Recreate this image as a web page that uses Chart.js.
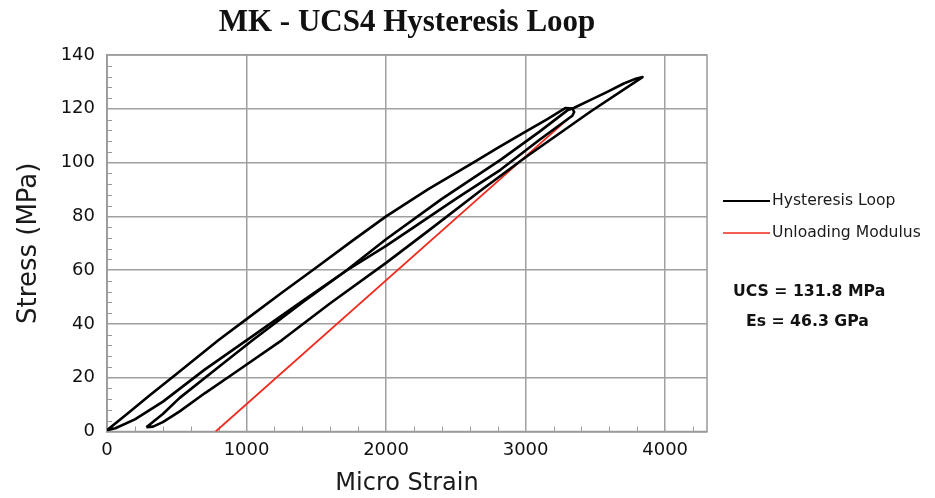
<!DOCTYPE html>
<html>
<head>
<meta charset="utf-8">
<script src="https://cdn.jsdelivr.net/npm/chart.js@4.4.1/dist/chart.umd.min.js"></script>
<style>
  html, body { margin: 0; padding: 0; background: #fff; }
</style>
</head>
<body>
<canvas id="chart" width="935" height="498"></canvas>
<script>
const titleText = 'MK - UCS4 Hysteresis Loop';
const seriesLabels = ['Hysteresis Loop', 'Unloading Modulus'];
const notes = ['UCS = 131.8 MPa', 'Es = 46.3 GPa'];
const xTickValues = [0, 1000, 2000, 3000, 4000];
const yTickValues = [0, 20, 40, 60, 80, 100, 120, 140];

// first cycle: load to ~120 MPa, unload back to the origin
const cycle1Strain = [0, 150, 300, 500, 800, 1000, 1250, 1500, 1750, 2000, 2300, 2625, 2800, 3000, 3150, 3287,
  3335, 3348, 3335, 3310, 3100, 2820, 2500, 2200, 2000, 1706, 1400, 1002, 700, 401, 200, 60, 0];
const cycle1Stress = [0.5, 6.8, 13.2, 21.5, 34, 41.8, 51.5, 61, 70.6, 80, 90, 100, 105.5, 111.5, 116, 120.3,
  120.1, 118.8, 117.4, 116.5, 108.5, 97.3, 86.5, 76, 69, 59.5, 48.5, 34, 23, 11.1, 4.5, 1.2, 0.5];

// second cycle: reload from the residual strain to failure, then unload
const cycle2Strain = [282, 400, 521, 800, 1045, 1400, 1706, 2000, 2400, 2820, 3100, 3299,
  3345, 3466, 3586, 3700, 3790, 3838,
  3800, 3466, 3000, 2676, 2300, 2000, 1600, 1254, 900, 700, 521, 400, 330, 282];
const cycle2Stress = [1.6, 6.5, 12.5, 24, 34, 48, 59.5, 71.5, 86.5, 101, 111.5, 119.4,
  120.3, 123.3, 126.3, 129.3, 131.2, 131.8,
  130.5, 119, 102, 89.5, 74.5, 62.7, 47.7, 34, 21.3, 14.2, 7.5, 3.5, 1.8, 1.6];

// unloading modulus tangent
const modulusStrain = [779, 3310];
const modulusStress = [0, 116.5];

const toPoints = (xs, ys) => xs.map((v, i) => ({x: v, y: ys[i]}));

const decor = {
  id: 'decor',
  beforeDatasetsDraw(chart) {
    const {ctx, chartArea: a, scales: {x, y}} = chart;
    ctx.save();
    ctx.strokeStyle = '#9a9a9a';
    ctx.lineWidth = 1;
    ctx.beginPath();
    for (let v = 200; v < 4300; v += 200) {
      if (v % 1000 === 0) continue;
      const px = Math.round(x.getPixelForValue(v)) + 0.5;
      ctx.moveTo(px, a.bottom);
      ctx.lineTo(px, a.bottom - 5);
    }
    for (let v = 4; v < 140; v += 4) {
      if (v % 20 === 0) continue;
      const py = Math.round(y.getPixelForValue(v)) + 0.5;
      ctx.moveTo(a.left, py);
      ctx.lineTo(a.left + 5, py);
    }
    ctx.stroke();
    ctx.lineWidth = 1.5;
    ctx.strokeRect(a.left, a.top, a.right - a.left, a.bottom - a.top);
    ctx.restore();
  },
  afterDraw(chart) {
    const {ctx, chartArea: a} = chart;
    ctx.save();
    // title
    ctx.fillStyle = '#111';
    ctx.font = 'bold 31px "Liberation Serif"';
    ctx.textAlign = 'center';
    ctx.textBaseline = 'middle';
    ctx.fillText(titleText, (a.left + a.right) / 2, 23);
    // legend
    const colors = ['#000', '#f02a1e'];
    ctx.textAlign = 'left';
    ctx.font = '15.6px "DejaVu Sans"';
    seriesLabels.forEach((lab, i) => {
      const yy = 201 + i * 32;
      ctx.strokeStyle = colors[i];
      ctx.lineWidth = i === 0 ? 2 : 1.5;
      ctx.beginPath();
      ctx.moveTo(723, yy);
      ctx.lineTo(770, yy);
      ctx.stroke();
      ctx.fillStyle = '#1a1a1a';
      ctx.fillText(lab, 772, yy);
    });
    // results
    ctx.font = 'bold 15.7px "DejaVu Sans"';
    ctx.fillStyle = '#111';
    ctx.fillText(notes[0], 733, 292);
    ctx.fillText(notes[1], 746, 322);
    ctx.restore();
  }
};

new Chart(document.getElementById('chart'), {
  type: 'scatter',
  data: {
    datasets: [
      {
        label: seriesLabels[0],
        data: toPoints(cycle1Strain, cycle1Stress),
        showLine: true,
        borderColor: '#000',
        borderWidth: 2.6,
        borderJoinStyle: 'round',
        pointRadius: 0,
        tension: 0
      },
      {
        label: seriesLabels[0],
        data: toPoints(cycle2Strain, cycle2Stress),
        showLine: true,
        borderColor: '#000',
        borderWidth: 2.6,
        borderJoinStyle: 'round',
        pointRadius: 0,
        tension: 0
      },
      {
        label: seriesLabels[1],
        data: toPoints(modulusStrain, modulusStress),
        showLine: true,
        borderColor: '#f02a1e',
        borderWidth: 1.8,
        pointRadius: 0
      }
    ]
  },
  options: {
    responsive: false,
    animation: false,
    layout: {
      padding: {top: 55, right: 228, bottom: 0, left: 0}
    },
    scales: {
      x: {
        type: 'linear',
        min: 0,
        max: 4300,
        afterFit: function (scale) { scale.height = 66.5; },
        afterBuildTicks: function (scale) {
          scale.ticks = xTickValues.map(v => ({value: v}));
        },
        ticks: {
          padding: 8,
          color: '#111',
          font: {family: 'DejaVu Sans', size: 18},
          callback: function (value) { return String(value); }
        },
        grid: {
          color: '#a0a0a0',
          lineWidth: 1.5,
          drawTicks: false
        },
        border: {color: '#9a9a9a', width: 1.5},
        title: {
          display: true,
          text: 'Micro Strain',
          color: '#1a1a1a',
          font: {family: 'DejaVu Sans', size: 24},
          padding: {top: 0, bottom: 0}
        }
      },
      y: {
        min: 0,
        max: 140,
        afterFit: function (scale) { scale.width = 107; },
        afterBuildTicks: function (scale) {
          scale.ticks = yTickValues.map(v => ({value: v}));
        },
        ticks: {
          padding: 12,
          color: '#111',
          font: {family: 'DejaVu Sans', size: 18},
          callback: function (value) { return String(value); }
        },
        grid: {
          color: '#a0a0a0',
          lineWidth: 1.5,
          drawTicks: false
        },
        border: {color: '#9a9a9a', width: 1.5},
        title: {
          display: true,
          text: 'Stress (MPa)',
          color: '#1a1a1a',
          font: {family: 'DejaVu Sans', size: 26},
          padding: {top: 14, bottom: 0}
        }
      }
    },
    plugins: {
      legend: {display: false},
      tooltip: {enabled: false}
    }
  },
  plugins: [decor]
});
</script>
</body>
</html>
